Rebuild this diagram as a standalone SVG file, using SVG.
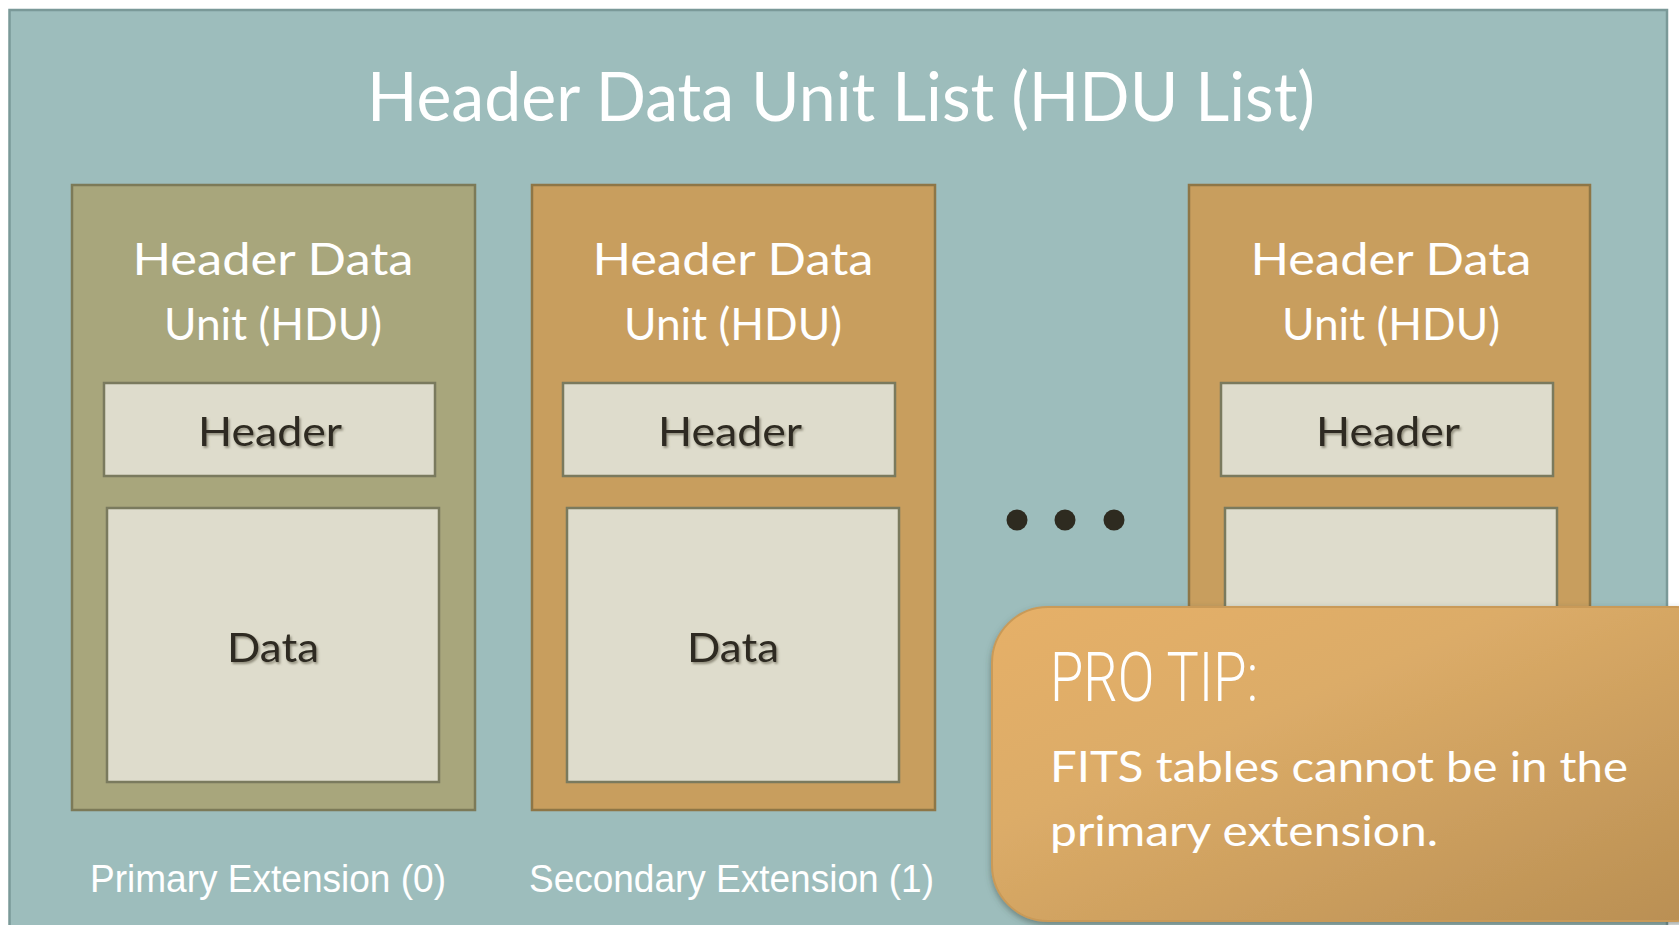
<svg xmlns="http://www.w3.org/2000/svg" width="1679" height="925" viewBox="0 0 1679 925">
  <style>
    .hdu-olive { fill: #A8A67C; stroke: #7C7A58; stroke-width: 2.5; }
    .hdu-gold { fill: #C89E5E; stroke: #8E7646; stroke-width: 2.5; }
    .part { fill: #DEDCCC; stroke: #7A7A5E; stroke-width: 2.5; }
    .hdu-label { font-family: Lato, "Open Sans", sans-serif; font-size: 44px; fill: #FFFFFF; text-anchor: middle; }
    .part-label { font-family: Lato, "Open Sans", sans-serif; font-size: 41px; fill: #2E2B20; text-anchor: middle; filter: url(#soft); }
    .ext-label { font-family: "Liberation Sans", sans-serif; font-size: 38px; fill: #FFFFFF; }
    .tip-body { font-family: Lato, "Open Sans", sans-serif; font-size: 43px; fill: #FFFFFF; }
    .dot { fill: #2E2B20; }
  </style>
  <defs>
    <filter id="soft" x="-10%" y="-30%" width="130%" height="160%">
      <feDropShadow dx="1.5" dy="2" stdDeviation="1.2" flood-color="#6E6A58" flood-opacity="0.7"/>
    </filter>
    <filter id="tipShadow" x="-10%" y="-10%" width="130%" height="130%">
      <feDropShadow dx="0" dy="3" stdDeviation="3" flood-color="#3E4A40" flood-opacity="0.5"/>
    </filter>
    <linearGradient id="tipFill" x1="0" y1="0" x2="1" y2="1" gradientUnits="objectBoundingBox">
      <stop offset="0" stop-color="#E6B067"/>
      <stop offset="0.35" stop-color="#DCAC68"/>
      <stop offset="1" stop-color="#B88E52"/>
    </linearGradient>
  </defs>

  <rect x="0" y="0" width="1679" height="925" fill="#FFFFFF"/>

  <!-- HDU list container -->
  <g id="hdu-list">
    <rect x="9.5" y="10" width="1657.5" height="930" fill="#9DBDBC" stroke="#7A9998" stroke-width="2.5"/>
    <text x="841" y="121" font-family="Lato, 'Open Sans', sans-serif" font-size="67" fill="#FFFFFF" text-anchor="middle" textLength="948" lengthAdjust="spacingAndGlyphs">Header Data Unit List (HDU List)</text>
  </g>

  <!-- Primary HDU -->
  <g id="hdu-primary">
    <rect class="hdu-olive" x="72" y="185" width="403" height="625"/>
    <text class="hdu-label" x="273" y="275" textLength="281" lengthAdjust="spacingAndGlyphs">Header Data</text>
    <text class="hdu-label" x="273" y="340" textLength="218" lengthAdjust="spacingAndGlyphs">Unit (HDU)</text>
    <rect class="part" x="104" y="383" width="331" height="93"/>
    <text class="part-label" x="270" y="446" textLength="144" lengthAdjust="spacingAndGlyphs">Header</text>
    <rect class="part" x="107" y="508" width="332" height="274"/>
    <text class="part-label" x="273" y="662" textLength="92" lengthAdjust="spacingAndGlyphs">Data</text>
  </g>

  <!-- Secondary HDU -->
  <g id="hdu-secondary">
    <rect class="hdu-gold" x="532" y="185" width="403" height="625"/>
    <text class="hdu-label" x="733" y="275" textLength="281" lengthAdjust="spacingAndGlyphs">Header Data</text>
    <text class="hdu-label" x="733" y="340" textLength="218" lengthAdjust="spacingAndGlyphs">Unit (HDU)</text>
    <rect class="part" x="563" y="383" width="332" height="93"/>
    <text class="part-label" x="730" y="446" textLength="144" lengthAdjust="spacingAndGlyphs">Header</text>
    <rect class="part" x="567" y="508" width="332" height="274"/>
    <text class="part-label" x="733" y="662" textLength="92" lengthAdjust="spacingAndGlyphs">Data</text>
  </g>

  <!-- Ellipsis -->
  <g id="ellipsis">
    <circle class="dot" cx="1017" cy="520" r="10.5"/>
    <circle class="dot" cx="1065" cy="520" r="10.5"/>
    <circle class="dot" cx="1114" cy="520" r="10.5"/>
  </g>

  <!-- Last HDU -->
  <g id="hdu-last">
    <rect class="hdu-gold" x="1189" y="185" width="401" height="625"/>
    <text class="hdu-label" x="1391" y="275" textLength="281" lengthAdjust="spacingAndGlyphs">Header Data</text>
    <text class="hdu-label" x="1391" y="340" textLength="218" lengthAdjust="spacingAndGlyphs">Unit (HDU)</text>
    <rect class="part" x="1221" y="383" width="332" height="93"/>
    <text class="part-label" x="1388" y="446" textLength="144" lengthAdjust="spacingAndGlyphs">Header</text>
    <rect class="part" x="1225" y="508" width="332" height="274"/>
  </g>

  <!-- Extension labels -->
  <g id="ext-labels">
    <text class="ext-label" x="90" y="892" textLength="356" lengthAdjust="spacingAndGlyphs">Primary Extension (0)</text>
    <text class="ext-label" x="529" y="892" textLength="405" lengthAdjust="spacingAndGlyphs">Secondary Extension (1)</text>
  </g>

  <!-- Tip callout -->
  <g id="pro-tip">
    <rect x="992" y="607" width="740" height="314" rx="56" ry="56" fill="url(#tipFill)" stroke="#C99A58" stroke-width="2" filter="url(#tipShadow)"/>
    <text x="1050" y="701" font-family="Roboto, 'Liberation Sans', sans-serif" font-weight="300" font-size="68" fill="#FFFFFF" textLength="208" lengthAdjust="spacingAndGlyphs">PRO TIP:</text>
    <text class="tip-body" x="1050" y="782" textLength="578" lengthAdjust="spacingAndGlyphs">FITS tables cannot be in the</text>
    <text class="tip-body" x="1050" y="846" textLength="388" lengthAdjust="spacingAndGlyphs">primary extension.</text>
  </g>
</svg>
